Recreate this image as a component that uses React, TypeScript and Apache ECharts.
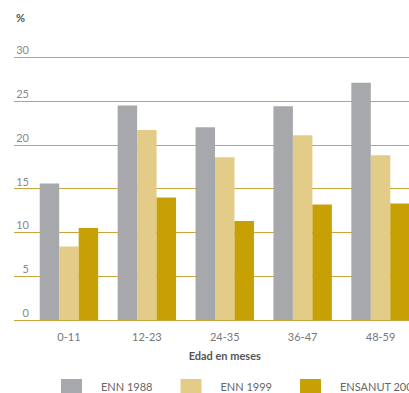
import React, { useEffect, useRef } from "react";
import * as echarts from "echarts";

const categories = ["0-11", "12-23", "24-35", "36-47", "48-59"];
const enn1988 = [15.6, 24.5, 22.0, 24.4, 27.1];
const enn1999 = [8.4, 21.7, 18.6, 21.1, 18.8];
const ensanut2006 = [10.5, 14.0, 11.3, 13.2, 13.3];
const seriesNames = ["ENN 1988", "ENN 1999", "ENSANUT 2006"];
const colors = ["#a7a8ab", "#e3cc88", "#c6a005"];

const FONT = "Lato, 'Open Sans', sans-serif";

export default function App() {
  const ref = useRef<HTMLDivElement>(null);
  useEffect(() => {
    if (!ref.current) return;
    const chart = echarts.init(ref.current, null, { renderer: "svg" });
    const data = [enn1988, enn1999, ensanut2006];
    chart.setOption({
      animation: false,
      backgroundColor: "#ffffff",
      textStyle: { fontFamily: FONT },
      title: {
        text: "%",
        left: 16,
        top: 12,
        padding: 0,
        textStyle: { fontSize: 11, fontWeight: "bold", color: "#555", fontFamily: FONT },
      },
      legend: {
        data: seriesNames,
        left: 61,
        top: 379,
        padding: 0,
        width: 800,
        itemWidth: 21,
        itemHeight: 14,
        itemGap: 28,
        icon: "rect",
        textStyle: { fontSize: 11, color: "#666", fontFamily: FONT, padding: [0, 0, 0, 14] },
      },
      grid: [
        { left: 14, right: 0, top: 57.3, bottom: 73, outerBoundsMode: "none" },
        { left: 30, width: 389.5, top: 57.3, bottom: 73, outerBoundsMode: "none" },
      ],
      xAxis: [
        { type: "category", gridIndex: 0, data: categories, show: false },
        {
          type: "category",
          gridIndex: 1,
          data: categories,
          axisLine: { show: false },
          axisTick: { show: false },
          axisLabel: { color: "#777", fontSize: 11, margin: 11, fontFamily: FONT },
          name: "Edad en meses",
          nameLocation: "middle",
          nameGap: 30,
          nameTextStyle: { fontSize: 11, fontWeight: "bold", color: "#555", fontFamily: FONT },
        },
      ],
      yAxis: [
        {
          type: "value",
          gridIndex: 0,
          min: 0,
          max: 30,
          interval: 5,
          axisLine: { show: false },
          axisTick: { show: false },
          splitLine: { lineStyle: { color: "#c9a53a", width: 1.2 } },
          axisLabel: {
            inside: true,
            align: "right",
            margin: 15,
            verticalAlign: "bottom",
            padding: [0, 0, 2, 0],
            color: "#888",
            fontSize: 11,
            fontFamily: FONT,
          },
        },
        { type: "value", gridIndex: 1, min: 0, max: 30, interval: 5, show: false },
      ],
      series: seriesNames.map((name, i) => ({
        name,
        type: "bar",
        xAxisIndex: 1,
        yAxisIndex: 1,
        data: data[i],
        barGap: "0%",
        barCategoryGap: "25%",
        itemStyle: { color: colors[i] },
      })),
    });
    return () => chart.dispose();
  }, []);
  return (
    <div
      ref={ref}
      style={{ position: "fixed", left: 0, top: 0, width: 409, height: 393 }}
    />
  );
}
